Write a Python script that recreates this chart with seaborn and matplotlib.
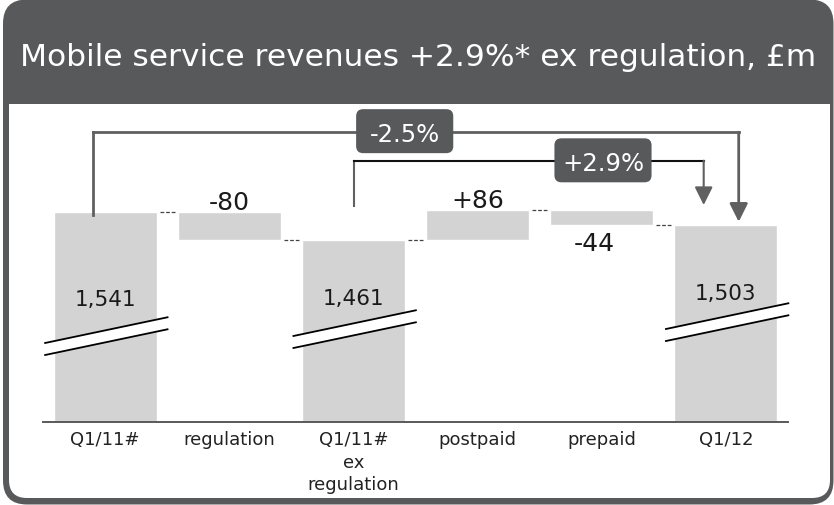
import matplotlib
matplotlib.use("Agg")
import matplotlib.pyplot as plt
from matplotlib.patches import FancyBboxPatch, Rectangle, Polygon
from matplotlib.transforms import blended_transform_factory
import pandas as pd
import seaborn as sns

# ---- data -------------------------------------------------------------
categories = ["Q1/11#", "regulation", "Q1/11#\nex\nregulation",
              "postpaid", "prepaid", "Q1/12"]
steps = [1541, -80, 1461, 86, -44, 1503]          # totals and movements, £m
is_total = [True, False, True, False, False, True]
growth_pairs = [(0, 5), (2, 5)]                   # growth brackets: from -> to

# ---- style ------------------------------------------------------------
BAR = "#d3d3d3"
DARK = "#58595b"
LINE = "#606060"
INK = "#1a1a1a"

sns.set_theme(style="white")
plt.rcParams["font.family"] = ["DejaVu Sans"]

# running waterfall levels
levels, lows, highs = [], [], []
level = 0
for v, t in zip(steps, is_total):
    if t:
        lows.append(None)
        highs.append(v)
        level = v
    else:
        new = level + v
        lows.append(min(level, new))
        highs.append(max(level, new))
        level = new
    levels.append(level)

W, H = 834, 506
fig = plt.figure(figsize=(W / 100, H / 100), dpi=100)
fig.patch.set_facecolor("white")

# ---- panel frame: dark header with rounded border --------------------
bg = fig.add_axes([0, 0, 1, 1], zorder=0)
bg.set_xlim(0, W)
bg.set_ylim(H, 0)
bg.axis("off")
bg.add_patch(FancyBboxPatch((3, 0.5), 830.5, 505, boxstyle="round,pad=0,rounding_size=24",
                            fc=DARK, ec="none"))
bg.add_patch(FancyBboxPatch((9, 105), 821, 394, boxstyle="round,pad=0,rounding_size=18",
                            fc="white", ec="none"))
bg.add_patch(Rectangle((9, 105), 821, 60, fc="white", ec="none"))
fig.text(20 / W, 1 - 66 / H, "Mobile service revenues +2.9%* ex regulation, £m",
         color="white", fontsize=22.5, ha="left", va="baseline")

# ---- waterfall --------------------------------------------------------
ax = fig.add_axes([43 / W, (H - 423) / H, 745 / W, 318 / H], zorder=1)
ax.patch.set_alpha(0)

BW = 0.83
tot = pd.DataFrame({
    "category": [c for c, t in zip(categories, is_total) if t],
    "value": [v for v, t in zip(steps, is_total) if t],
})
sns.barplot(data=tot, x="category", y="value", order=categories, color=BAR,
            saturation=1, width=BW, ax=ax, zorder=2)

d_idx = [i for i, t in enumerate(is_total) if not t]
ax.bar(d_idx, [highs[i] - lows[i] for i in d_idx], bottom=[lows[i] for i in d_idx],
       width=BW, color=BAR, zorder=2)

ax.set_xlim(-0.5, 5.5)
ax.set_ylim(940, 1848.6)
ax.set_xlabel("")
ax.set_ylabel("")
ax.set_yticks([])
ax.set_xticks(range(len(categories)))
ax.set_xticklabels(categories, fontsize=13, color="#222222", linespacing=1.3)
ax.tick_params(axis="x", length=0, pad=6)
for s in ("left", "right", "top"):
    ax.spines[s].set_visible(False)
ax.spines["bottom"].set_color(DARK)
ax.spines["bottom"].set_linewidth(1.4)
ax.spines["bottom"].set_zorder(3)

# dashed connectors between neighbouring bars
for i in range(len(steps) - 1):
    ax.plot([i + BW / 2 + 0.025, i + 1 - BW / 2 - 0.025], [levels[i], levels[i]],
            color="#444444", lw=0.9, ls=(0, (3, 1.5)), zorder=2)

# axis-break marks on the total bars
bt = blended_transform_factory(ax.transData, ax.transAxes)
break_y = {0: 0.270, 2: 0.292, 5: 0.314}
for i, yc in break_y.items():
    x0, x1 = i - 0.49, i + 0.51
    rise, gap = 0.041, 0.0189
    ax.add_patch(Polygon([(x0, yc - rise - gap), (x1, yc + rise - gap),
                          (x1, yc + rise + gap), (x0, yc - rise + gap)],
                         closed=True, fc="white", ec="none", transform=bt,
                         zorder=4, clip_on=False))
    for sgn in (-1, 1):
        ax.plot([x0, x1], [yc - rise + sgn * gap, yc + rise + sgn * gap],
                color="black", lw=1.3, transform=bt, zorder=5, clip_on=False,
                solid_capstyle="butt")

# value labels
total_label_y = {0: 0.368, 2: 0.371, 5: 0.387}
for i, (v, t) in enumerate(zip(steps, is_total)):
    if t:
        ax.text(i, total_label_y[i], f"{v:,}", transform=bt, ha="center",
                va="baseline", fontsize=15.5, color=INK, zorder=6)
for i, side in zip(d_idx, ["above", "above", "below"]):
    txt = f"{steps[i]:+d}"
    if side == "above":
        ax.annotate(txt, (i, highs[i]), xytext=(0, 2), textcoords="offset points",
                    ha="center", va="baseline", fontsize=18, color=INK, zorder=6)
    else:
        ax.annotate(txt, (i, lows[i]), xytext=(-5.5, -18), textcoords="offset points",
                    ha="center", va="baseline", fontsize=18, color=INK, zorder=6)

# growth brackets with arrows and labelled boxes
geom = [
    # x_left, y_start, y_top, x_right, y_tip, box centre, line colours, width
    dict(xl=-0.098, ys=1531, yt=1768, xr=5.103, tip=1512, box=(2.413, 1771),
         c_left=LINE, c_top=LINE, c_right=LINE, lw=2.0),
    dict(xl=2.006, ys=1556, yt=1686.6, xr=4.821, tip=1560, box=(4.010, 1687.7),
         c_left=LINE, c_top="#111111", c_right=LINE, lw=1.5),
]
px_x = 124.0      # pixels per category
px_y = 0.35       # pixels per £m
for (a, b), g in zip(growth_pairs, geom):
    pct = (steps[b] - steps[a]) / steps[a] * 100
    ax.plot([g["xl"], g["xl"]], [g["ys"], g["yt"]], color=g["c_left"], lw=g["lw"],
            zorder=3, solid_capstyle="projecting")
    ax.plot([g["xl"], g["xr"]], [g["yt"], g["yt"]], color=g["c_top"], lw=g["lw"],
            zorder=3, solid_capstyle="projecting")
    ax.annotate("", xy=(g["xr"], g["tip"]), xytext=(g["xr"], g["yt"]),
                arrowprops=dict(arrowstyle="-|>,head_length=1.1,head_width=0.55",
                                mutation_scale=10, color=g["c_right"], lw=g["lw"],
                                shrinkA=0, shrinkB=0), zorder=3)
    cx, cy = g["box"]
    bw, bh = 97 / px_x, 44 / px_y
    ax.add_patch(FancyBboxPatch((cx - bw / 2, cy - bh / 2), bw, bh,
                                boxstyle=f"round,pad=0,rounding_size={7 / px_x}",
                                mutation_aspect=px_x / px_y, fc=DARK, ec="none",
                                zorder=7, clip_on=False))
    ax.annotate(f"{pct:+.1f}%", (cx, cy), xytext=(0, -7.2), textcoords="offset points",
                ha="center", va="baseline", fontsize=17.5, color="white", zorder=8)

fig.savefig("out.png", dpi=100)
